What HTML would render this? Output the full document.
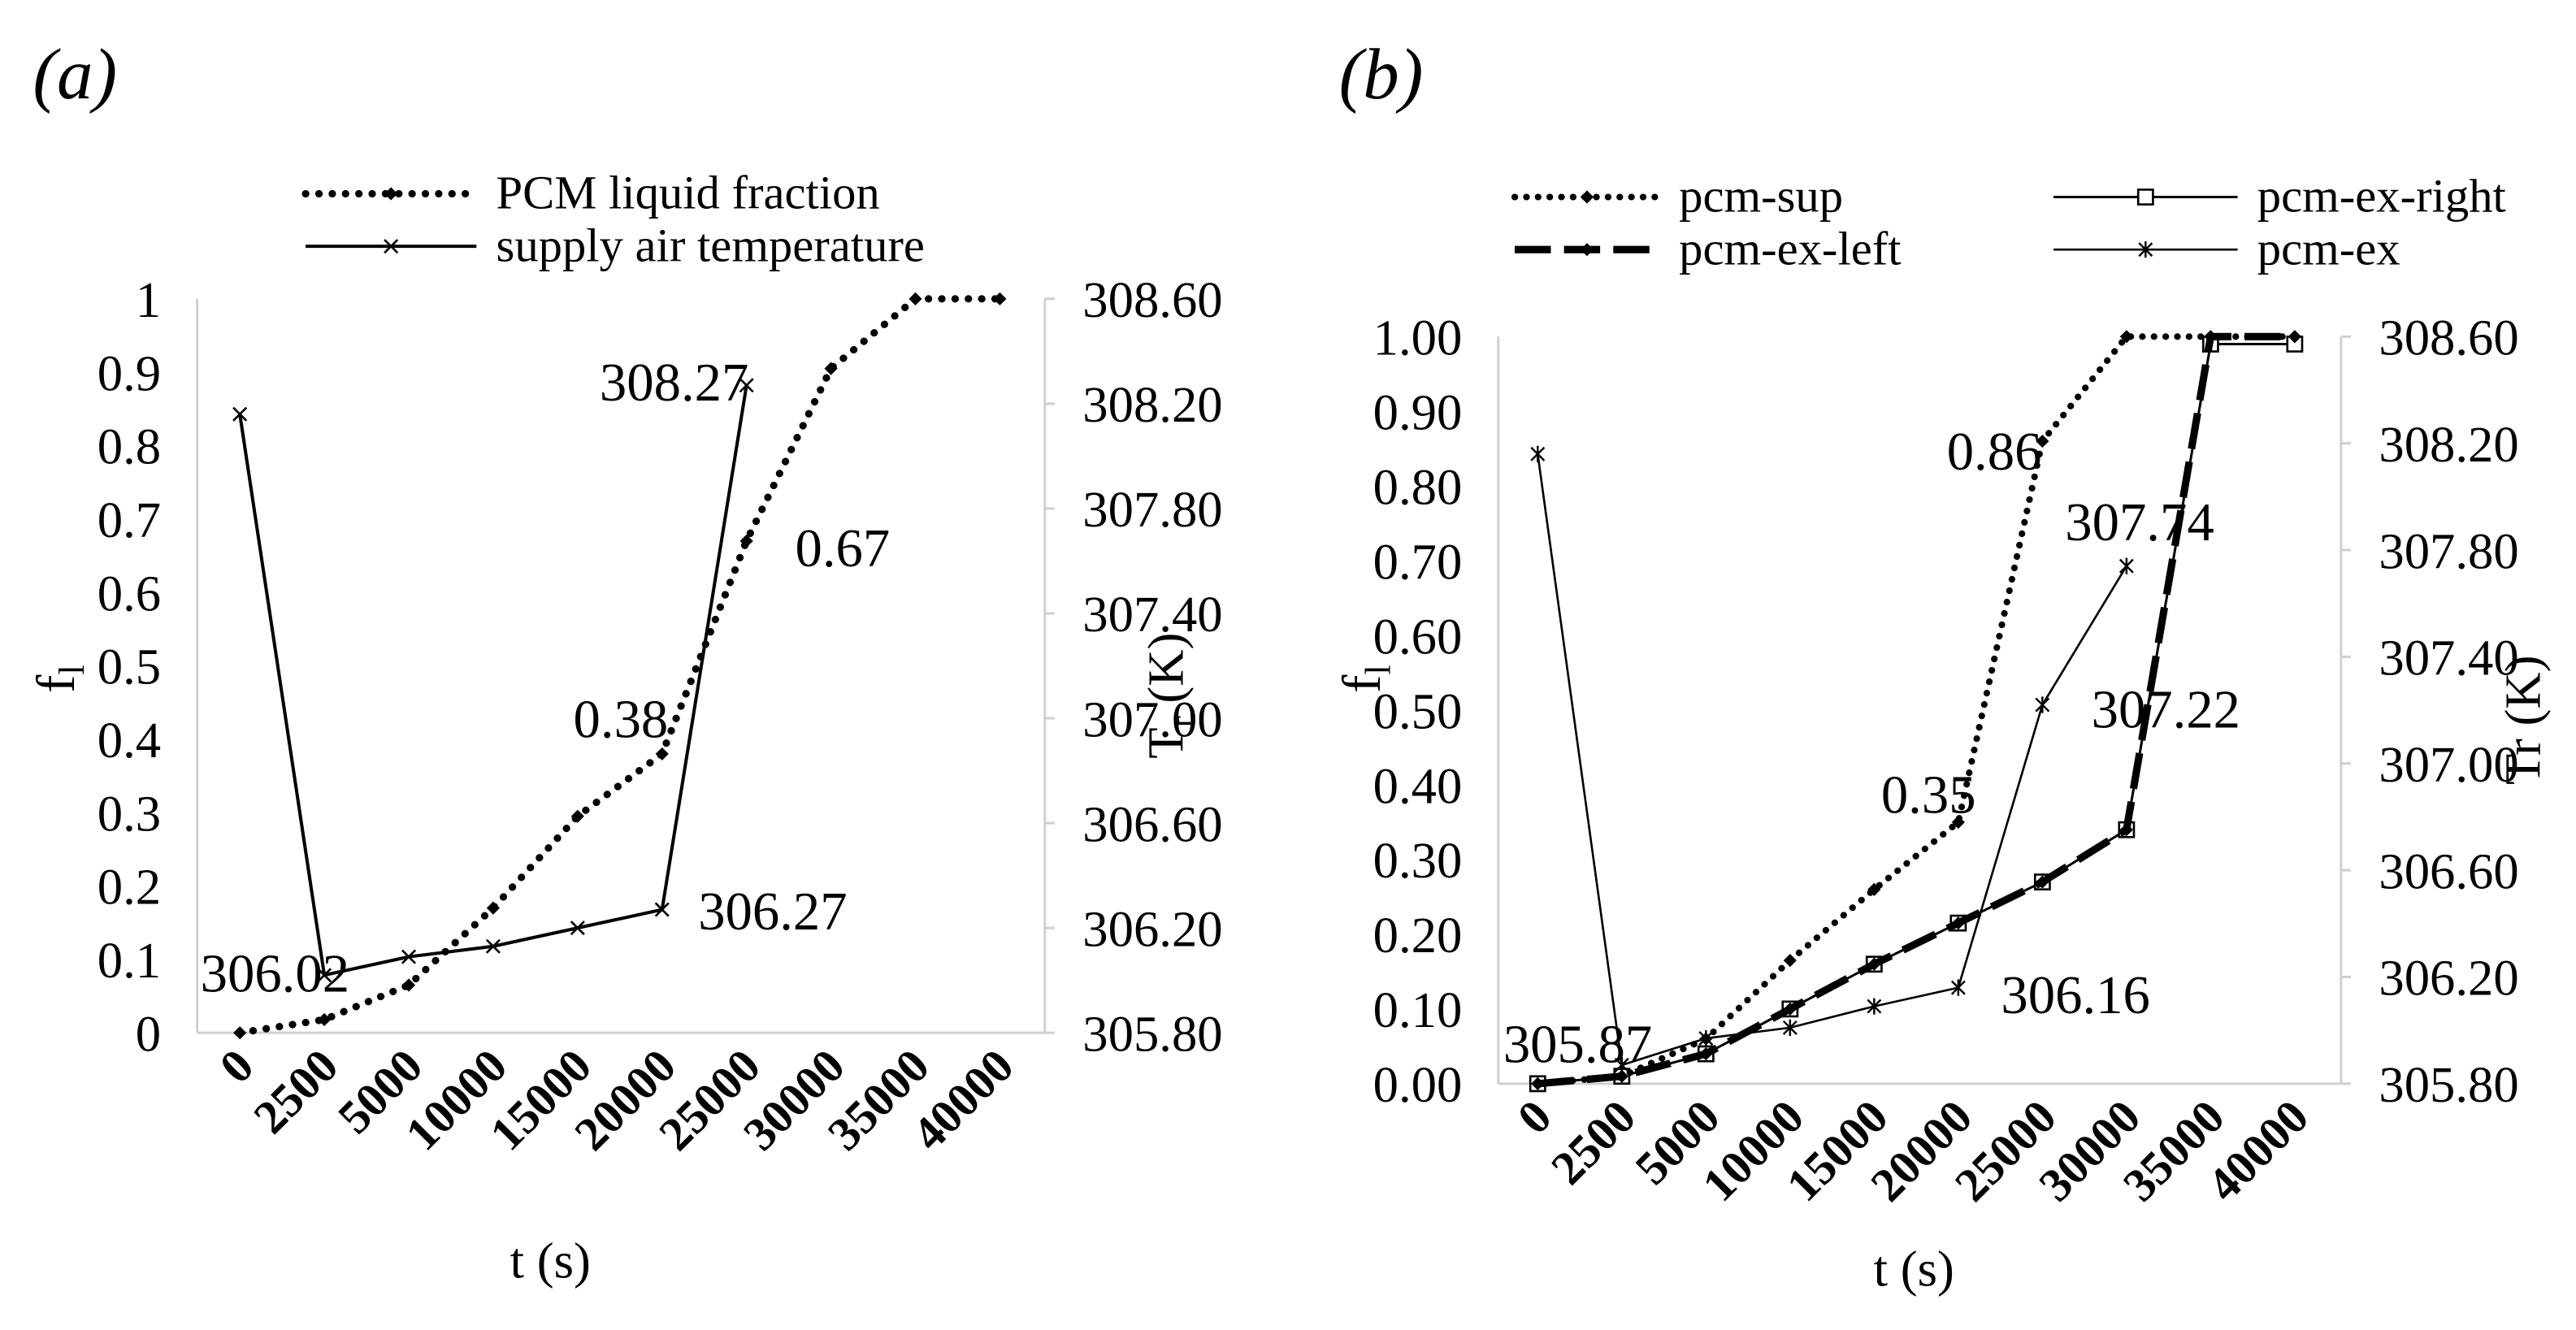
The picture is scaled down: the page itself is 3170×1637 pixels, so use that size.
<!DOCTYPE html>
<html><head><meta charset="utf-8"><style>
html,body{margin:0;padding:0;background:#fff;}
svg{display:block;font-family:"Liberation Serif",serif;}
</style></head><body>
<svg id="svg" width="3170" height="1637" viewBox="0 0 1568 810" preserveAspectRatio="none" xmlns="http://www.w3.org/2000/svg">
<text x="20" y="60" font-size="44" font-style="italic">(a)</text>
<text x="815" y="60" font-size="44" font-style="italic">(b)</text>
<g id="ga"></g>
<g id="gb"></g>
</svg>
<script>
const cats = ["0","2500","5000","10000","15000","20000","25000","30000","35000","40000"];
const fracA = [0,0.018,0.065,0.17,0.295,0.38,0.67,0.905,1.0,1.0];
const tempA = [308.16,306.02,306.09,306.13,306.20,306.27,308.27];
const leftTicksA = ["0","0.1","0.2","0.3","0.4","0.5","0.6","0.7","0.8","0.9","1"];
const rightTicks = ["305.80","306.20","306.60","307.00","307.40","307.80","308.20","308.60"];
const pcmSup = [0,0.01,0.06,0.165,0.26,0.35,0.86,1.0,1.0,1.0];
const pcmExLeft = [0,0.01,0.04,0.10,0.16,0.215,0.27,0.34,1.0,1.0];
const pcmExRight = [0,0.01,0.04,0.10,0.16,0.215,0.27,0.34,0.99,0.99];
const pcmEx = [308.16,305.87,305.97,306.01,306.09,306.16,307.22,307.74];
const leftTicksB = ["0.00","0.10","0.20","0.30","0.40","0.50","0.60","0.70","0.80","0.90","1.00"];

const NS="http://www.w3.org/2000/svg";
function el(p,tag,attrs,txt){const e=document.createElementNS(NS,tag);for(const k in attrs)e.setAttribute(k,attrs[k]);if(txt!==undefined)e.textContent=txt;p.appendChild(e);return e;}
function marker(g,kind,x,y){
  let m;
  if(kind==="diamond"){m=el(g,"path",{d:`M${x} ${y-4}L${x+4} ${y}L${x} ${y+4}L${x-4} ${y}Z`,fill:"#000"});}
  else if(kind==="square"){m=el(g,"rect",{x:x-4.5,y:y-4.5,width:9,height:9,fill:"#fff",stroke:"#000","stroke-width":1.3});}
  else if(kind==="x"){m=el(g,"path",{d:`M${x-4} ${y-4}L${x+4} ${y+4}M${x-4} ${y+4}L${x+4} ${y-4}`,stroke:"#000","stroke-width":1.3});}
  else {m=el(g,"path",{d:`M${x-4} ${y-4}L${x+4} ${y+4}M${x-4} ${y+4}L${x+4} ${y-4}M${x} ${y-5}L${x} ${y+5}`,stroke:"#000","stroke-width":1.2});}
  
  
}
function chart(g,cfg){
  const {L,R,T,B,x0,dx,lmax,rmin,rmax}=cfg;
  const xs=i=>x0+i*dx, yl=v=>B-(v/lmax)*(B-T), yr=v=>B-(v-rmin)/(rmax-rmin)*(B-T);
  el(g,"line",{x1:L,y1:T,x2:L,y2:B,stroke:"#d0d0d0","stroke-width":1.5});
  el(g,"line",{x1:L,y1:B,x2:R,y2:B,stroke:"#d0d0d0","stroke-width":1.5});
  el(g,"line",{x1:R,y1:T,x2:R,y2:B,stroke:"#d0d0d0","stroke-width":1.5});
  cfg.lt.forEach((t,i)=>{const v=i*lmax/(cfg.lt.length-1);const e=el(g,"text",{x:L-22,y:yl(v)+11,"font-size":31,"text-anchor":"end"},t);});
  rightTicks.forEach(t=>{const y=yr(parseFloat(t));el(g,"line",{x1:R,y1:y,x2:R+6,y2:y,stroke:"#d0d0d0","stroke-width":1.5});const e=el(g,"text",{x:R+23,y:y+11,"font-size":31},t);});
  cats.forEach((c,i)=>{const x=xs(i)+10,y=B+22;const e=el(g,"text",{x:x,y:y,"font-size":29,"font-weight":"bold","text-anchor":"end",transform:`rotate(-45 ${x} ${y})`},c);});
  cfg.series.forEach(s=>{
    const pts=s.data.map((v,i)=>[xs(i),s.axis==="r"?yr(v):yl(v)]);
    const sg=el(g,"g",{});
    el(sg,"polyline",{points:pts.map(p=>p.join(",")).join(" "),fill:"none",stroke:"#000","stroke-width":s.w,"stroke-dasharray":s.dash||"none","stroke-linecap":s.cap||"butt"});
    pts.forEach(p=>marker(sg,s.m,p[0],p[1]));
  });
  return {xs,yl,yr};
}
const ga=document.getElementById("ga");
chart(ga,{L:120,R:636,T:182,B:629,x0:146,dx:51.4,lmax:1,rmin:305.8,rmax:308.6,lt:leftTicksA,series:[
 {name:"pcm-liquid-fraction-series",data:fracA,axis:"l",w:4.5,dash:"0.1 8",cap:"round",m:"diamond"},
 {name:"supply-air-temperature-series",data:tempA,axis:"r",w:2,m:"x"}]});
const gb=document.getElementById("gb");
chart(gb,{L:912,R:1425,T:205,B:660,x0:936,dx:51.2,lmax:1,rmin:305.8,rmax:308.6,lt:leftTicksB,series:[
 {name:"pcm-ex-right-series",data:pcmExRight,axis:"l",w:1.5,m:"square"},
 {name:"pcm-ex-left-series",data:pcmExLeft,axis:"l",w:4.5,dash:"22 8",m:"diamond"},
 {name:"pcm-sup-series",data:pcmSup,axis:"l",w:4,dash:"0.1 7",cap:"round",m:"diamond"},
 {name:"pcm-ex-series",data:pcmEx,axis:"r",w:1.3,m:"star"}]});
const sv=document.getElementById("svg");
function txt(x,y,s,t,name,extra){const e=el(sv,"text",Object.assign({x:x,y:y,"font-size":s},extra||{}),t);return e;}
// data labels
txt(122,604,33,"306.02","label-306-02");txt(425,566,33,"306.27","label-306-27");txt(365,244,33,"308.27","label-308-27");
txt(349,449,33,"0.38","label-0-38");txt(484,345,33,"0.67","label-0-67");
txt(915,647,33,"305.87","label-305-87");txt(1218,617,33,"306.16","label-306-16");txt(1273,443,33,"307.22","label-307-22");
txt(1257,329,33,"307.74","label-307-74");txt(1145,495,33,"0.35","label-0-35");txt(1185,286,33,"0.86","label-0-86");
// axis titles
txt(335,778,31,"t (s)","x-axis-title-a",{"text-anchor":"middle"});txt(1165,783,31,"t (s)","x-axis-title-b",{"text-anchor":"middle"});
const fa=txt(45,422,33,"f","y-axis-title-a",{transform:"rotate(-90 45 422)"});el(fa,"tspan",{"font-size":22,dy:6},"l");
const fb=txt(840,422,33,"f","y-axis-title-b",{transform:"rotate(-90 840 422)"});el(fb,"tspan",{"font-size":22,dy:6},"l");
const tr=txt(720,462,31,"T","y2-axis-title-a",{transform:"rotate(-90 720 462)"});el(tr,"tspan",{"font-size":21,dy:6},"r");el(tr,"tspan",{dy:-6}," (K)");
txt(1546,478,31,"Tr (K)","y2-axis-title-b",{transform:"rotate(-90 1546 478)"});
// legends
function leg(x1,x2,y,w,dash,cap,m,label,name){
  const g=el(sv,"g",{});
  el(g,"line",{x1:x1,y1:y,x2:x2,y2:y,stroke:"#000","stroke-width":w,"stroke-dasharray":dash,"stroke-linecap":cap});
  marker(g,m,(x1+x2)/2,y);
  el(g,"text",{x:x2+12,y:y+9,"font-size":29},label);
}
leg(186,290,118,4.5,"0.1 8","round","diamond","PCM liquid fraction","legend-pcm-liquid-fraction");
leg(186,290,150,2,"none","butt","x","supply air temperature","legend-supply-air-temperature");
leg(922,1010,120,4,"0.1 7","round","diamond","pcm-sup","legend-pcm-sup");
leg(922,1010,152,4.5,"22 8","butt","diamond","pcm-ex-left","legend-pcm-ex-left");
leg(1250,1362,120,1.5,"none","butt","square","pcm-ex-right","legend-pcm-ex-right");
leg(1250,1362,152,1.3,"none","butt","star","pcm-ex","legend-pcm-ex");
</script>
</body></html>
